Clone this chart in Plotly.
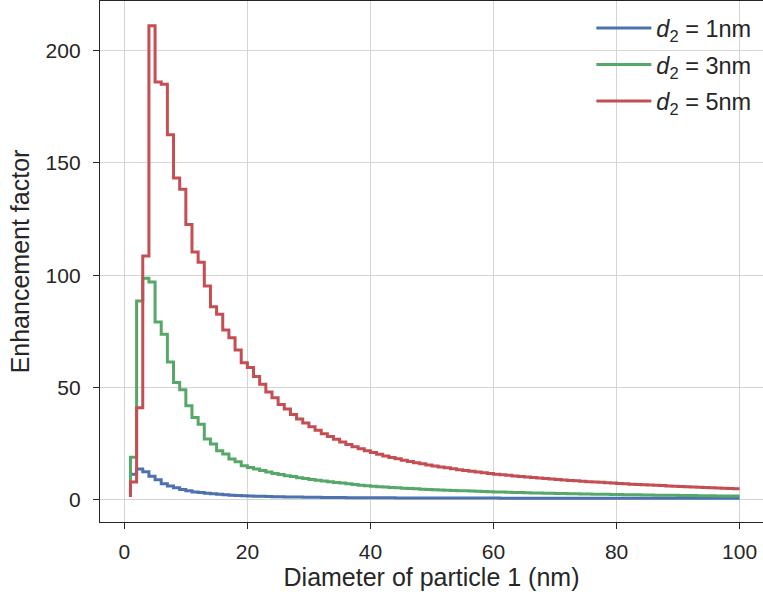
import plotly.graph_objects as go

diameter_nm = list(range(1, 101))

enh_d2_1nm = [
    7.0, 11.5, 13.8, 12.6, 10.5, 9.0, 7.2, 6.2, 5.4, 4.7,
    4.1, 3.6, 3.3, 3.0, 2.75, 2.5, 2.3, 2.15, 2.0, 1.9,
    1.8, 1.7, 1.62, 1.55, 1.48, 1.42, 1.37, 1.32, 1.28, 1.24,
    1.2, 1.17, 1.14, 1.11, 1.08, 1.06, 1.04, 1.02, 1.0, 0.98,
    0.97, 0.96, 0.95, 0.94, 0.93, 0.92, 0.91, 0.9, 0.89, 0.88,
    0.875, 0.87, 0.865, 0.86, 0.855, 0.85, 0.845, 0.84, 0.835, 0.83,
    0.825, 0.82, 0.815, 0.81, 0.805, 0.8, 0.8, 0.795, 0.79, 0.79,
    0.785, 0.78, 0.78, 0.775, 0.77, 0.77, 0.765, 0.76, 0.76, 0.755,
    0.755, 0.75, 0.75, 0.745, 0.745, 0.74, 0.74, 0.74, 0.735, 0.735,
    0.73, 0.73, 0.73, 0.725, 0.725, 0.72, 0.72, 0.72, 0.715, 0.715,
]

enh_d2_3nm = [
    1.9, 19.0, 88.5, 98.6, 97.0, 79.2, 73.7, 61.4, 52.3, 49.0,
    41.9, 36.7, 33.7, 27.1, 24.9, 21.9, 20.4, 18.2, 17.0, 15.2,
    14.5, 13.8, 13.1, 12.4, 11.8, 11.3, 10.8, 10.4, 9.9, 9.5,
    9.1, 8.8, 8.4, 8.1, 7.8, 7.5, 7.2, 6.9, 6.6, 6.3,
    6.1, 5.9, 5.75, 5.6, 5.4, 5.25, 5.1, 4.95, 4.8, 4.7,
    4.55, 4.45, 4.35, 4.25, 4.15, 4.05, 3.95, 3.85, 3.75, 3.65,
    3.6, 3.5, 3.45, 3.35, 3.3, 3.2, 3.15, 3.1, 3.0, 2.95,
    2.9, 2.85, 2.8, 2.75, 2.7, 2.65, 2.6, 2.55, 2.5, 2.45,
    2.4, 2.35, 2.3, 2.27, 2.23, 2.2, 2.15, 2.12, 2.08, 2.05,
    2.0, 1.97, 1.94, 1.9, 1.87, 1.84, 1.81, 1.78, 1.75, 1.72,
]

enh_d2_5nm = [
    1.3, 8.0, 41.0, 108.5, 211.0, 186.0, 185.0, 162.5, 143.3, 138.3,
    122.6, 110.3, 105.8, 95.2, 86.0, 82.6, 75.6, 72.2, 66.7, 61.1,
    58.9, 54.9, 51.5, 48.0, 45.5, 42.5, 40.5, 38.0, 36.0, 34.3,
    32.6, 31.0, 29.5, 28.2, 27.0, 25.8, 24.7, 23.7, 22.8, 21.9,
    21.1, 20.3, 19.6, 18.9, 18.3, 17.7, 17.1, 16.6, 16.1, 15.6,
    15.1, 14.7, 14.3, 13.9, 13.5, 13.1, 12.8, 12.4, 12.1, 11.8,
    11.5, 11.2, 10.95, 10.7, 10.45, 10.2, 9.95, 9.75, 9.5, 9.3,
    9.1, 8.9, 8.7, 8.5, 8.35, 8.15, 8.0, 7.85, 7.7, 7.5,
    7.35, 7.2, 7.05, 6.9, 6.8, 6.65, 6.5, 6.4, 6.25, 6.15,
    6.0, 5.9, 5.8, 5.65, 5.55, 5.45, 5.35, 5.25, 5.15, 5.0,
]

series_names = [
    "<i>d</i><sub>2</sub> = 1nm",
    "<i>d</i><sub>2</sub> = 3nm",
    "<i>d</i><sub>2</sub> = 5nm",
]
series_values = [enh_d2_1nm, enh_d2_3nm, enh_d2_5nm]
series_colors = ["#4C72B0", "#55A868", "#C44E52"]

x_ticks = [0, 20, 40, 60, 80, 100]
y_ticks = [0, 50, 100, 150, 200]

fig = go.Figure()
for i, (name, vals, col) in enumerate(zip(series_names, series_values, series_colors)):
    fig.add_trace(go.Scatter(
        x=diameter_nm, y=vals, mode="lines", name=name,
        line=dict(color=col, width=3, shape="vh"),
        legendgroup=f"g{i}",
    ))

font_fam = "Liberation Sans, Arial, sans-serif"
txt_col = "#262626"

fig.update_layout(
    width=763, height=599,
    margin=dict(l=100, r=0, t=1, b=77),
    paper_bgcolor="white", plot_bgcolor="white",
    font=dict(family=font_fam, color=txt_col, size=22),
    showlegend=True,
    legend=dict(
        x=0.99, y=0.99, xanchor="right", yanchor="top",
        bgcolor="rgba(0,0,0,0)", borderwidth=0,
        font=dict(size=23.5, family=font_fam, color=txt_col),
        tracegroupgap=3, itemwidth=55,
    ),
    xaxis=dict(
        range=[-3.95, 103.8],
        tickvals=x_ticks, ticktext=[str(v) for v in x_ticks],
        showgrid=True, gridcolor="#d5d5d5", gridwidth=1,
        zeroline=False,
        showline=True, linecolor=txt_col, linewidth=1.3, mirror=True,
        ticks="outside", ticklen=6, tickwidth=1.3, tickcolor=txt_col,
        tickfont=dict(size=21), ticklabelstandoff=5,
        title=dict(text="Diameter of particle 1 (nm)", font=dict(size=25), standoff=6),
    ),
    yaxis=dict(
        range=[-9.8, 222.0],
        tickvals=y_ticks, ticktext=[str(v) for v in y_ticks],
        showgrid=True, gridcolor="#d5d5d5", gridwidth=1,
        zeroline=False,
        showline=True, linecolor=txt_col, linewidth=1.3,
        ticks="outside", ticklen=6, tickwidth=1.3, tickcolor=txt_col,
        tickfont=dict(size=21), ticklabelstandoff=8,
        title=dict(text="Enhancement factor", font=dict(size=25), standoff=8),
    ),
)

fig.write_html("out.html")
